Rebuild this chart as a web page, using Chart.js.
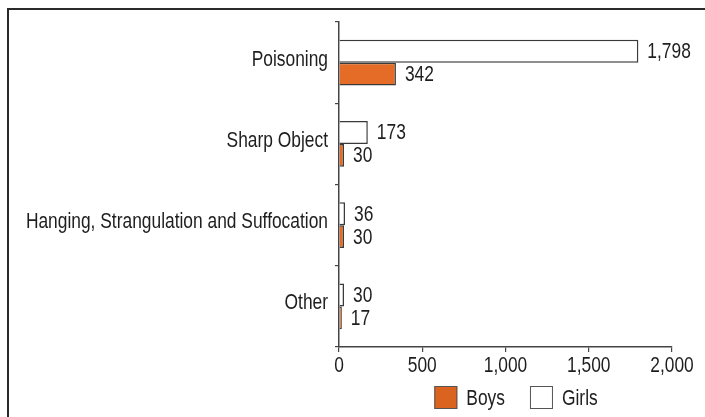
<!DOCTYPE html>
<html>
<head>
<meta charset="utf-8">
<script src="https://cdn.jsdelivr.net/npm/chart.js@4.4.1/dist/chart.umd.min.js"></script>
<style>
  html, body { margin: 0; padding: 0; background: #fff; }
  #wrap { position: relative; width: 705px; height: 417px; }
  #frame { position: absolute; left: 7px; top: 8px; right: 0; bottom: 0;
           border-top: 2px solid #2a2a2a; border-left: 2px solid #2a2a2a; }
  canvas { position: absolute; left: 0; top: 0; }
</style>
</head>
<body>
<div id="wrap">
  <div id="frame"></div>
  <canvas id="c" width="705" height="417"></canvas>
</div>
<script>
const categories = ['Poisoning', 'Sharp Object', 'Hanging, Strangulation and Suffocation', 'Other'];
const girls = [1798, 173, 36, 30];
const boys = [342, 30, 30, 17];
const xTicks = [0, 500, 1000, 1500, 2000];

const FONT = '"Liberation Sans", Arial, sans-serif';
const FS = 22;
const NARROW = 0.79;   // horizontal squeeze for a narrow-type look
const TEXT = '#1e1e1e';
const ORANGE = '#E46C26';
const EDGE = '#3a3a3a';

// condensed text: squeeze every string drawn on this canvas horizontally
const canvas = document.getElementById('c');
const ctx0 = canvas.getContext('2d');
const rawFill = ctx0.fillText.bind(ctx0);
const rawMeasure = ctx0.measureText.bind(ctx0);
ctx0.fillText = function (text, x, y, maxWidth) {
  this.save();
  this.translate(x, y);
  this.scale(NARROW, 1);
  if (maxWidth !== undefined) rawFill(text, 0, 0, maxWidth / NARROW);
  else rawFill(text, 0, 0);
  this.restore();
};
ctx0.measureText = function (text) {
  const m = rawMeasure(text);
  return {
    width: m.width * NARROW,
    actualBoundingBoxAscent: m.actualBoundingBoxAscent,
    actualBoundingBoxDescent: m.actualBoundingBoxDescent,
    actualBoundingBoxLeft: m.actualBoundingBoxLeft * NARROW,
    actualBoundingBoxRight: m.actualBoundingBoxRight * NARROW
  };
};

// value labels at the end of each bar
const valueLabels = {
  id: 'valueLabels',
  afterDatasetsDraw(chart) {
    const ctx = chart.ctx;
    ctx.save();
    ctx.font = FS + 'px ' + FONT;
    ctx.fillStyle = TEXT;
    ctx.textAlign = 'left';
    ctx.textBaseline = 'middle';
    chart.data.datasets.forEach((ds, i) => {
      chart.getDatasetMeta(i).data.forEach((bar, j) => {
        ctx.fillText(ds.data[j].toLocaleString('en-US'), bar.x + 9, bar.y + 1);
      });
    });
    ctx.restore();
  }
};

// legend below the axis: Boys, then Girls
const bottomLegend = {
  id: 'bottomLegend',
  afterDraw(chart) {
    const ctx = chart.ctx;
    const order = [1, 0];
    const box = 23, gap = 9, spacing = 25;
    ctx.save();
    ctx.font = FS + 'px ' + FONT;
    const widths = order.map(i => box + gap + ctx.measureText(chart.data.datasets[i].label).width);
    const total = widths.reduce((a, b) => a + b, 0) + spacing * (order.length - 1);
    let x = 516 - total / 2;
    const y = 386;
    order.forEach((i, k) => {
      const ds = chart.data.datasets[i];
      ctx.fillStyle = i === 1 ? '#D9631F' : ds.backgroundColor;
      ctx.fillRect(x, y, box, box);
      ctx.strokeStyle = '#555';
      ctx.lineWidth = 1;
      ctx.strokeRect(x + 0.5, y + 0.5, box - 1, box - 1);
      ctx.fillStyle = TEXT;
      ctx.textAlign = 'left';
      ctx.textBaseline = 'middle';
      ctx.fillText(ds.label, x + box + gap, y + box / 2 + 1);
      x += widths[k] + spacing;
    });
    ctx.restore();
  }
};

new Chart(canvas, {
  type: 'bar',
  data: {
    labels: categories,
    datasets: [
      { label: 'Girls', data: girls, backgroundColor: '#ffffff', borderColor: EDGE, borderWidth: 1.5,
        categoryPercentage: 0.566, barPercentage: 1 },
      { label: 'Boys', data: boys, backgroundColor: ORANGE, borderColor: EDGE, borderWidth: 1.5,
        categoryPercentage: 0.566, barPercentage: 1 }
    ]
  },
  options: {
    indexAxis: 'y',
    responsive: false,
    animation: false,
    layout: { padding: { top: 22, right: 33, bottom: 0, left: 0 } },
    plugins: { legend: { display: false }, tooltip: { enabled: false } },
    scales: {
      x: {
        min: 0, max: 2000,
        afterFit(scale) { scale.height = 70; },
        afterBuildTicks(scale) { scale.ticks = xTicks.map(v => ({ value: v })); },
        grid: { display: true, drawOnChartArea: false, drawTicks: true, tickLength: 5, color: '#444', lineWidth: 1.2 },
        border: { display: true, color: '#444', width: 1.5 },
        ticks: { color: TEXT, font: { family: FONT, size: FS }, padding: 1,
                 callback: v => v.toLocaleString('en-US') }
      },
      y: {
        afterFit(scale) { scale.width = 339; },
        grid: { display: true, offset: true, drawOnChartArea: false, drawTicks: true, tickLength: 4, color: '#444', lineWidth: 1.2 },
        border: { display: true, color: '#444', width: 1.5 },
        ticks: { color: TEXT, font: { family: FONT, size: FS }, padding: 7, labelOffset: -3 }
      }
    }
  },
  plugins: [valueLabels, bottomLegend]
});
</script>
</body>
</html>
